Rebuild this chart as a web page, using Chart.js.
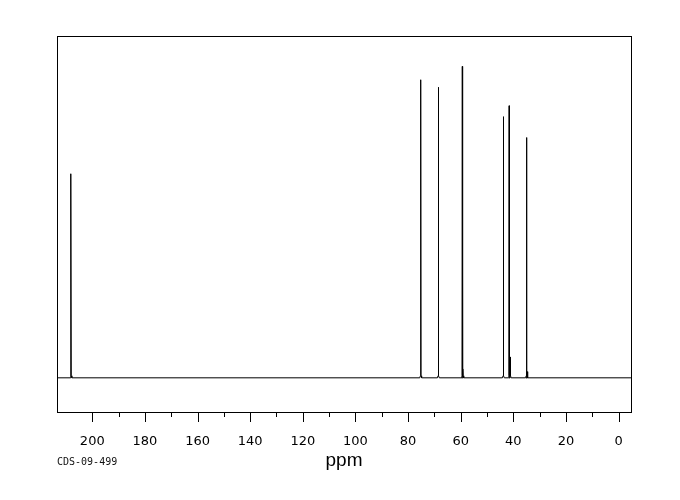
<!DOCTYPE html>
<html>
<head>
<meta charset="utf-8">
<script src="https://cdn.jsdelivr.net/npm/chart.js@4.4.0/dist/chart.umd.min.js"></script>
<style>
  html, body { margin: 0; padding: 0; background: #fff; }
  #wrap { width: 680px; height: 500px; }
</style>
</head>
<body>
<div id="wrap"><canvas id="nmrChart" width="680" height="500"></canvas></div>
<script>
// peak positions (ppm) and heights (relative intensity, baseline = 0)
const peakPpm    = [208.1, 75.2, 68.5, 59.4, 59.2, 43.8, 41.6, 41.2, 35.0, 34.8];
const peakHeight = [59.7,  87.2, 85.0, 91.1, 2.6,  76.4, 79.6, 6.1,  70.3, 1.8];
const tickValues = [200, 190, 180, 170, 160, 150, 140, 130, 120, 110, 100, 90, 80, 70, 60, 50, 40, 30, 20, 10, 0];
const xMin = -4.7, xMax = 213.4;
const sampleCode = 'CDS-09-499';

// build the trace: flat baseline with a narrow stick at each peak
const trace = [{ x: xMax, y: 0 }];
peakPpm.forEach((p, i) => {
  trace.push({ x: p + 0.35, y: 0 });
  trace.push({ x: p + 0.12, y: 0.6 });
  trace.push({ x: p, y: peakHeight[i] });
  trace.push({ x: p - 0.12, y: 0.6 });
  trace.push({ x: p - 0.35, y: 0 });
});
trace.push({ x: xMin, y: 0 });

// frame, tick marks and sample code
const framePlugin = {
  id: 'frame',
  afterDraw(chart) {
    const ctx = chart.ctx;
    const a = chart.chartArea;
    const xs = chart.scales.x;
    ctx.save();
    ctx.strokeStyle = '#000';
    ctx.lineWidth = 1;
    ctx.strokeRect(Math.round(a.left) + 0.5, Math.round(a.top) + 0.5,
      Math.round(a.right - a.left), Math.round(a.bottom - a.top));
    ctx.beginPath();
    xs.ticks.forEach(t => {
      const px = Math.round(xs.getPixelForValue(t.value)) + 0.5;
      const len = t.value % 20 === 0 ? 10 : 5;
      ctx.moveTo(px, Math.round(a.bottom));
      ctx.lineTo(px, Math.round(a.bottom) + len);
    });
    ctx.stroke();
    ctx.fillStyle = '#111';
    ctx.font = '10px "DejaVu Sans Mono"';
    ctx.textBaseline = 'middle';
    ctx.fillText(sampleCode, 57, 462);
    ctx.restore();
  }
};

const ctx = document.getElementById('nmrChart').getContext('2d');
new Chart(ctx, {
  type: 'scatter',
  data: {
    datasets: [{
      data: trace,
      showLine: true,
      borderColor: '#000',
      borderWidth: 1,
      pointRadius: 0,
      tension: 0
    }]
  },
  options: {
    responsive: false,
    animation: false,
    events: [],
    layout: { padding: { left: 57, right: 49, top: 36, bottom: 0 } },
    plugins: { legend: { display: false }, tooltip: { enabled: false } },
    scales: {
      x: {
        type: 'linear',
        min: xMin,
        max: xMax,
        reverse: true,
        grid: { display: false },
        border: { display: false },
        afterBuildTicks: s => { s.ticks = tickValues.map(v => ({ value: v })); },
        afterFit: s => { s.height = 88; },
        ticks: {
          autoSkip: false,
          maxRotation: 0,
          padding: 14,
          color: '#000',
          font: { family: 'DejaVu Sans', size: 13 },
          callback: v => (v % 20 === 0 ? String(v) : '')
        },
        title: {
          display: true,
          text: 'ppm',
          color: '#000',
          font: { family: 'Liberation Sans', size: 19 },
          padding: { top: 0, bottom: 28 }
        }
      },
      y: {
        display: false,
        min: -10,
        max: 100
      }
    }
  },
  plugins: [framePlugin]
});
</script>
</body>
</html>
